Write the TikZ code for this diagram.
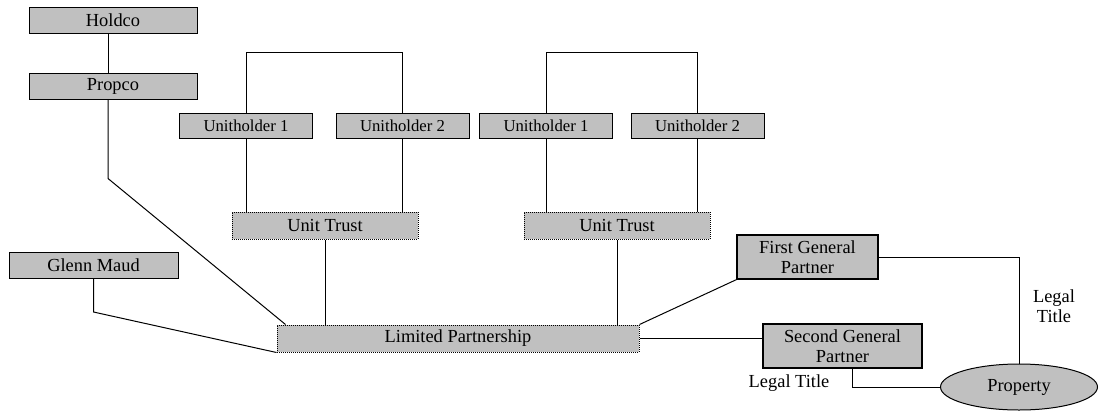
\documentclass[tikz,border=0pt]{standalone}
\usepackage{fontspec}
\setmainfont{Liberation Serif}
\usetikzlibrary{shapes.geometric,calc}
\definecolor{boxgray}{RGB}{192,192,192}
\tikzstyle{entity}=[draw,fill=boxgray,line width=1pt,inner sep=0pt,minimum height=26pt,font=\fontsize{18.4}{20}\selectfont]
\tikzstyle{holder}=[entity,minimum width=133pt,minimum height=25pt,font=\fontsize{16.7}{19}\selectfont]
\tikzstyle{trust}=[entity,densely dotted,minimum height=27pt]
\tikzstyle{partner}=[entity,line width=1.3pt,minimum height=44pt,align=center]
\tikzstyle{link} = [draw,line width=1pt]
\tikzstyle{title} = [font=\fontsize{18.4}{20}\selectfont,align=center]

\begin{document}
\begin{tikzpicture}[x=1pt,y=-1pt]
\useasboundingbox (0,0) rectangle (1099,415);
				% First we draw the companies
				\foreach \pos/\name/\w/\txt in {{(113,20)/holdco/168/Holdco}, {(113,86)/propco/168/Propco},
										{(93.5,265.5)/glenn/169/Glenn Maud}}
				\node[entity, minimum width=\w pt] (\name) at \pos {\txt};

				% Unitholders and trusts
				\foreach \pos/\name/\txt in {{(246,125.5)/uha/Unitholder 1}, {(402.5,125.5)/uhb/Unitholder 2},
										{(546,125.5)/uhc/Unitholder 1}, {(697.5,125.5)/uhd/Unitholder 2}}
				\node[holder] (\name) at \pos {\txt};
				\foreach \pos/\name in {{(325,225.5)/uta}, {(617,225.5)/utb}}
				\node[trust, minimum width=186pt] (\name) at \pos {Unit Trust};
				\node[trust, minimum width=362pt] (lp) at (458,338.5) {Limited Partnership};

				% Partners and the property
				\node[partner, minimum width=141pt] (fgp) at (807.5,257) {First General\\Partner};
				\node[partner, minimum width=159pt] (sgp) at (842.5,346) {Second General\\Partner};
				\node[ellipse, draw, fill=boxgray, line width=1pt, minimum width=157pt, minimum height=46pt,
					inner sep=0pt, font=\fontsize{18.4}{20}\selectfont] (property) at (1019,387) {Property};

				% Connect the boxes
				\path[link] ($(holdco.south)+(-5,0)$) -- ($(propco.north)+(-5,0)$);
				\path[link] ($(propco.south)+(-5,0)$) -- ++(0,79) -- ($(lp.north west)+(9,0)$);
				\path[link] (glenn.south) -- ++(0,33) -- (lp.south west);
				\foreach \left/ \right /\trust in {uha/uhb/uta, uhc/uhd/utb}
				{
				\path[link] (\left.north) -- ++(0,-60) -| (\right.north);
				\path[link] (\left.south) -- (\left.south |- \trust.north);
				\path[link] (\right.south) -- (\right.south |- \trust.north);
				\path[link] (\trust.south) -- (\trust.south |- lp.north);
				}
				\path[link] (lp.north east) -- (fgp.south west);
				\path[link] (lp.east) -- (lp.east -| sgp.west);
				\path[link] (fgp.east) -| (property.north);
				\path[link] ($(sgp.south)+(10,0)$) |- (property.west);

				% Legal title labels
				\node[title] (titlea) at (789,383) {Legal Title};
				\node[title] (titleb) at (1054,306) {Legal\\Title};
\end{tikzpicture}
\end{document}
